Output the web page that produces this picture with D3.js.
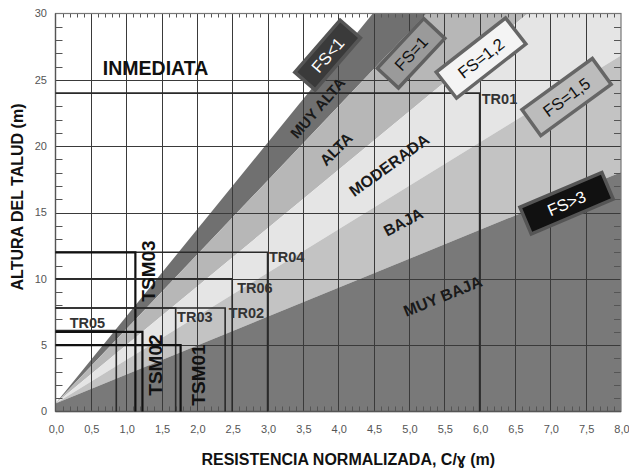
<!DOCTYPE html>
<html><head><meta charset="utf-8">
<script src="https://cdn.jsdelivr.net/npm/d3@7"></script>
<style>body{margin:0;background:#fff}svg{display:block}text{font-family:"Liberation Sans",Arial,sans-serif}</style>
</head><body><svg id="c" width="629" height="470"></svg>
<script>
// ---- data ----
const xTickValues = [0,0.5,1,1.5,2,2.5,3,3.5,4,4.5,5,5.5,6,6.5,7,7.5,8];
const xTickLabels = ["0,0","0,5","1,0","1,5","2,0","2,5","3,0","3,5","4,0","4,5","5,0","5,5","6,0","6,5","7,0","7,5","8,0"];
const yTickValues = [0,5,10,15,20,25,30];
const yTickLabels = ["0","5","10","15","20","25","30"];
const zoneNames = ["MUY ALTA","ALTA","MODERADA","BAJA","MUY BAJA"];
const fsLabels = ["FS<1","FS=1","FS=1,2","FS=1,5","FS>3"];
const fsSlopes = [6.55,5.6,4.4,3.28,2.18];   // H / (C/γ) of each limit line
const fsOrigin = 0.6;                          // H at C/γ = 0
const sites = ["TR01","TR04","TSM03","TR06","TR02","TR03","TR05","TSM02","TSM01"];
const siteC = [6.0,3.0,1.13,2.5,2.4,1.7,0.86,1.23,1.77];
const siteH = [24,12,12,10,7.8,7.8,6.1,6.0,5.0];

// ---- layout ----
const svg = d3.select("#c");
const x = d3.scaleLinear().domain([0,8]).range([55.5,621]);
const y = d3.scaleLinear().domain([0,30]).range([411.5,13.5]);
const X0=x(0), X1=x(8), Y0=y(0), Y1=y(30);

svg.append("defs").append("clipPath").attr("id","pc")
  .append("rect").attr("x",X0).attr("y",Y1).attr("width",X1-X0).attr("height",Y0-Y1);

const line = d3.line().x(d=>x(d[0])).y(d=>y(d[1]));
const bands = svg.append("g").attr("clip-path","url(#pc)");
const zoneFill = ["#707070","#b7b7b7","#e5e5e5","#c3c3c3","#797979"];
const XM = 8;
for (let i=0;i<4;i++){
  const pts=[[0,fsOrigin],[XM,fsOrigin+fsSlopes[i+1]*XM],[XM,fsOrigin+fsSlopes[i]*XM]];
  bands.append("path").attr("d",line(pts)+"Z").attr("fill",zoneFill[i]);
}
bands.append("path").attr("d",line([[0,0],[0,fsOrigin],[XM,fsOrigin+fsSlopes[4]*XM],[XM,0]])+"Z").attr("fill",zoneFill[4]);

// grid
const grid = svg.append("g").attr("stroke","#3a3a3a").attr("stroke-width",1);
xTickValues.filter(v=>v>0&&v<8).forEach(v=>{
  grid.append("line").attr("x1",Math.round(x(v))+0.5).attr("x2",Math.round(x(v))+0.5).attr("y1",Y1).attr("y2",Y0);
});
yTickValues.filter(v=>v>0&&v<30).forEach(v=>{
  grid.append("line").attr("x1",X0).attr("x2",X1).attr("y1",Math.round(y(v))+0.5).attr("y2",Math.round(y(v))+0.5);
});

// minor ticks
const tk = svg.append("g").attr("stroke","#555").attr("stroke-width",1);
for (let k=1;k<80;k++){ if(k%5===0) continue; const px=Math.round(x(k/10))+0.5;
  tk.append("line").attr("x1",px).attr("x2",px).attr("y1",Y1).attr("y2",Y1+4);
  tk.append("line").attr("x1",px).attr("x2",px).attr("y1",Y0).attr("y2",Y0-5);
}
for (let k=1;k<30;k++){ if(k%5===0) continue; const py=Math.round(y(k))+0.5;
  tk.append("line").attr("x1",X0).attr("x2",X0+7).attr("y1",py).attr("y2",py);
  tk.append("line").attr("x1",X1).attr("x2",X1-7).attr("y1",py).attr("y2",py);
}
// frame
svg.append("rect").attr("x",X0).attr("y",Y1).attr("width",X1-X0).attr("height",Y0-Y1)
  .attr("fill","none").attr("stroke","#777").attr("stroke-width",1.2);
svg.append("line").attr("x1",X0).attr("x2",X0).attr("y1",Y1).attr("y2",Y0).attr("stroke","#555").attr("stroke-width",1.3);
svg.append("line").attr("x1",X0).attr("x2",X1).attr("y1",Y0).attr("y2",Y0).attr("stroke","#555").attr("stroke-width",1.3);

// site corner lines
const sg = svg.append("g").attr("fill","none");
sites.forEach((s,i)=>{
  const tsm = s.startsWith("TSM");
  sg.append("path").attr("d",line([[0,siteH[i]],[siteC[i],siteH[i]],[siteC[i],0]]))
    .attr("stroke",tsm?"#111":"#2a2a2a").attr("stroke-width",tsm?2.2:1.6);
});

// tick labels
const tl = svg.append("g").attr("fill","#555").attr("font-size",11);
xTickValues.forEach((v,i)=>tl.append("text").attr("x",x(v)+1).attr("y",433).attr("text-anchor","middle").text(xTickLabels[i]));
yTickValues.forEach((v,i)=>tl.append("text").attr("x",47).attr("y",y(v)).attr("dy","0.35em").attr("text-anchor","end").text(yTickLabels[i]));

// axis titles
svg.append("text").attr("x",(X0+X1)/2+10).attr("y",465).attr("text-anchor","middle")
  .attr("font-size",16).attr("font-weight","bold").attr("fill","#111").text("RESISTENCIA NORMALIZADA, C/ɣ (m)");
svg.append("text").attr("transform","translate(23,197) rotate(-90)").attr("text-anchor","middle")
  .attr("font-size",16).attr("font-weight","bold").attr("fill","#111").text("ALTURA DEL TALUD (m)");

// INMEDIATA
svg.append("text").attr("x",x(0.67)).attr("y",y(25.35)).attr("font-size",19.5).attr("font-weight","bold").attr("fill","#111").text("INMEDIATA");

// zone labels
const zonePos = [[3.71,22.87,-49],[3.97,19.78,-45],[4.72,18.57,-36],[4.92,14.28,-28],[5.48,8.7,-22]];
const zoneSize = [15,15.5,16,15.5,16];
zoneNames.forEach((n,i)=>{
  const p=zonePos[i];
  svg.append("text").attr("transform",`translate(${x(p[0])},${y(p[1])}) rotate(${p[2]})`)
    .attr("text-anchor","middle").attr("dy","0.35em").attr("font-size",zoneSize[i]).attr("font-weight","bold")
    .attr("fill","#1a1a1a").text(n);
});

// site labels
const siteLab = [[6.03,23.2],[3.02,11.25],[1.41,10.59],[2.57,8.93],[2.45,7.05],[1.72,6.74],[0.2,6.3],[1.5,3.5],[2.11,2.75]];
sites.forEach((s,i)=>{
  const p=siteLab[i];
  if (s.startsWith("TSM")) {
    svg.append("text").attr("transform",`translate(${x(p[0])},${y(p[1])}) rotate(-90)`).attr("text-anchor","middle")
      .attr("font-size",19).attr("font-weight","bold").attr("fill","#111").text(s);
  } else {
    svg.append("text").attr("x",x(p[0])).attr("y",y(p[1])).attr("font-size",14.5).attr("font-weight","bold").attr("fill","#333").text(s);
  }
});

// FS boxes
const fsPos = [[3.85,26.87,-49,72,30],[5.03,27.0,-47,71,32],[6.02,26.64,-38,91,36],[7.23,23.7,-36,90,35],[7.23,15.7,-23,92,32]];
const fsFill = ["#3a3a3a","#9a9a9a","#f4f4f4","#bcbcbc","#111"];
const fsStroke = ["#555","#606060","#666","#666","#555"];
const fsText = ["#fff","#111","#111","#111","#fff"];
fsLabels.forEach((l,i)=>{
  const p=fsPos[i];
  const g=svg.append("g").attr("transform",`translate(${x(p[0])},${y(p[1])}) rotate(${p[2]})`);
  g.append("rect").attr("x",-p[3]/2+1.5).attr("y",-p[4]/2+1.5).attr("width",p[3]-3).attr("height",p[4]-3)
    .attr("fill",fsFill[i]).attr("stroke",fsStroke[i]).attr("stroke-width",3.5);
  g.append("text").attr("text-anchor","middle").attr("dy","0.36em").attr("font-size",16.5).attr("fill",fsText[i]).text(l);
});
</script></body></html>
